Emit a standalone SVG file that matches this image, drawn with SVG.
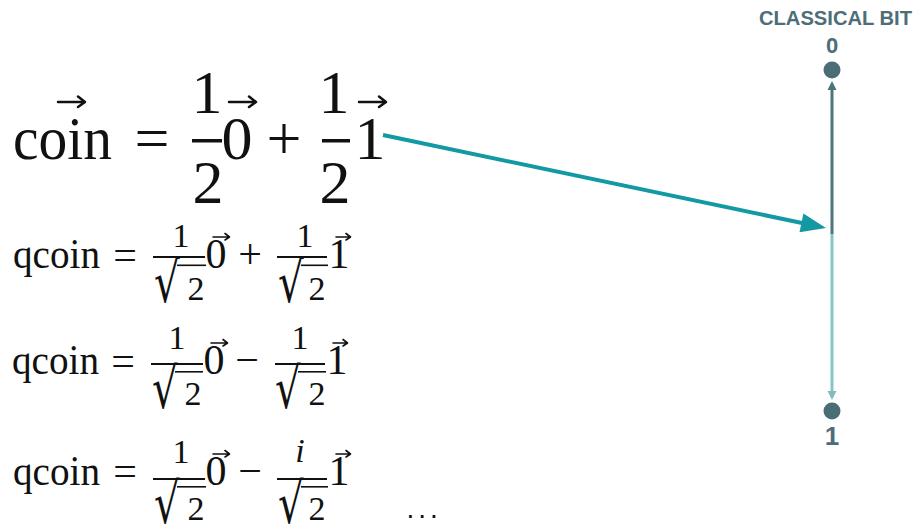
<svg xmlns="http://www.w3.org/2000/svg" width="917" height="528" viewBox="0 0 917 528">
<style>
.m{font-family:"Liberation Serif","DejaVu Serif",serif;fill:#111}
.m1{font-size:62px}
.m2{font-size:42px}
.ms{font-size:34px}
.rad{font-family:"DejaVu Serif","Liberation Serif",serif;font-size:56px;fill:#111}
.r{fill:#111}
.vec{stroke:#111;fill:none;stroke-linecap:round;stroke-linejoin:round}
.lab{font-family:"Liberation Sans","DejaVu Sans",sans-serif;font-weight:bold;fill:#4d6e78}
.node{fill:#4a6d76}
</style>

<g id="eq-classical">
<text class="m m1" x="13" y="159" textLength="99" lengthAdjust="spacingAndGlyphs">coin</text>
<path class="vec" stroke-width="2.5" d="M58,102 H84 M78,96.5 L85,102 L78,107"/>
<text class="m m1" x="152" y="159" text-anchor="middle">=</text>
<text class="m m1" x="207" y="113" text-anchor="middle">1</text>
<rect class="r" x="192" y="139" width="30" height="3.5"/>
<text class="m m1" x="208" y="203" text-anchor="middle">2</text>
<text class="m m1" x="237" y="159" text-anchor="middle">0</text>
<path class="vec" stroke-width="2.5" d="M229,102 H255 M249,96.5 L256,102 L249,107"/>
<text class="m m1" x="284" y="159" text-anchor="middle">+</text>
<text class="m m1" x="334" y="113" text-anchor="middle">1</text>
<rect class="r" x="322" y="139" width="28" height="3.5"/>
<text class="m m1" x="335" y="203" text-anchor="middle">2</text>
<text class="m m1" x="370" y="159" text-anchor="middle">1</text>
<path class="vec" stroke-width="2.5" d="M359,102 H385 M379,96.5 L386,102 L379,107"/>
</g>

<g id="eq-qcoin-1">
<text class="m m2" x="13" y="268" textLength="87" lengthAdjust="spacingAndGlyphs">qcoin</text>
<text class="m m2" x="125" y="269" text-anchor="middle">=</text>
<text class="m ms" x="181" y="247" text-anchor="middle">1</text>
<rect class="r" x="153" y="256" width="52" height="2"/>
<text class="rad" transform="translate(154,302) scale(0.72,1)">√</text>
<rect class="r" x="177" y="264.5" width="29" height="1.6"/>
<text class="m ms" x="196" y="300" text-anchor="middle">2</text>
<text class="m m2" x="216" y="268" text-anchor="middle">0</text>
<path class="vec" stroke-width="1.6" d="M213,237 H229 M225,233.5 L229.5,237 L225,240"/>
<text class="m m2" x="250" y="268" text-anchor="middle">+</text>
<text class="m ms" x="305" y="247" text-anchor="middle">1</text>
<rect class="r" x="277" y="256" width="50" height="2"/>
<text class="rad" transform="translate(278,302) scale(0.72,1)">√</text>
<rect class="r" x="301" y="264.5" width="27" height="1.6"/>
<text class="m ms" x="317" y="300" text-anchor="middle">2</text>
<text class="m m2" x="339" y="268" text-anchor="middle">1</text>
<path class="vec" stroke-width="1.6" d="M336,237 H350 M346,233.5 L350.5,237 L346,240"/>
</g>

<g id="eq-qcoin-2">
<text class="m m2" x="12" y="374" textLength="87" lengthAdjust="spacingAndGlyphs">qcoin</text>
<text class="m m2" x="123" y="375" text-anchor="middle">=</text>
<text class="m ms" x="177" y="349" text-anchor="middle">1</text>
<rect class="r" x="151" y="363" width="52" height="2"/>
<text class="rad" transform="translate(152,408) scale(0.72,1)">√</text>
<rect class="r" x="175" y="371" width="28" height="1.6"/>
<text class="m ms" x="193" y="405" text-anchor="middle">2</text>
<text class="m m2" x="214" y="374" text-anchor="middle">0</text>
<path class="vec" stroke-width="1.6" d="M211,343 H227 M223,339.5 L227.5,343 L223,346"/>
<text class="m m2" x="247" y="374" text-anchor="middle">−</text>
<text class="m ms" x="300" y="349" text-anchor="middle">1</text>
<rect class="r" x="275" y="363" width="50" height="2"/>
<text class="rad" transform="translate(275,408) scale(0.72,1)">√</text>
<rect class="r" x="298" y="371" width="28" height="1.6"/>
<text class="m ms" x="317" y="405" text-anchor="middle">2</text>
<text class="m m2" x="337" y="374" text-anchor="middle">1</text>
<path class="vec" stroke-width="1.6" d="M333,343 H347 M343,339.5 L347.5,343 L343,346"/>
</g>

<g id="eq-qcoin-3">
<text class="m m2" x="13" y="485" textLength="87" lengthAdjust="spacingAndGlyphs">qcoin</text>
<text class="m m2" x="125" y="485" text-anchor="middle">=</text>
<text class="m ms" x="181" y="463" text-anchor="middle">1</text>
<rect class="r" x="153" y="478" width="52" height="2"/>
<text class="rad" transform="translate(154,523) scale(0.72,1)">√</text>
<rect class="r" x="177" y="486" width="29" height="1.6"/>
<text class="m ms" x="196" y="520" text-anchor="middle">2</text>
<text class="m m2" x="216" y="485" text-anchor="middle">0</text>
<path class="vec" stroke-width="1.6" d="M213,454 H229 M225,450.5 L229.5,454 L225,457"/>
<text class="m m2" x="250" y="485" text-anchor="middle">−</text>
<text class="m ms" x="300" y="462" text-anchor="middle" font-style="italic">i</text>
<rect class="r" x="277" y="478" width="50" height="2"/>
<text class="rad" transform="translate(278,523) scale(0.72,1)">√</text>
<rect class="r" x="301" y="486" width="27" height="1.6"/>
<text class="m ms" x="317" y="520" text-anchor="middle">2</text>
<text class="m m2" x="339" y="485" text-anchor="middle">1</text>
<path class="vec" stroke-width="1.6" d="M336,454 H350 M346,450.5 L350.5,454 L346,457"/>
</g>

<g id="ellipsis">
<text x="406.5" y="518" font-family="'Liberation Sans',Arial,sans-serif" font-size="28" letter-spacing="4" fill="#111">...</text>
</g>

<g id="classical-bit-title">
<text class="lab" x="759" y="25" font-size="21" textLength="153" lengthAdjust="spacingAndGlyphs">CLASSICAL BIT</text>
</g>

<g id="state-0">
<text class="lab" x="832" y="53" font-size="22" text-anchor="middle">0</text>
<circle class="node" cx="832" cy="70" r="8.5"/>
</g>

<g id="state-1">
<circle class="node" cx="832" cy="411" r="8.5"/>
<text class="lab" x="832" y="445" font-size="26" text-anchor="middle">1</text>
</g>

<g id="connectors">
<line x1="832" y1="88" x2="832" y2="234" stroke="#50747d" stroke-width="3"/>
<path d="M832,81 L836.5,90 L827.5,90 Z" fill="#50747d"/>
<line x1="832" y1="234" x2="832" y2="391" stroke="#86c4c7" stroke-width="3"/>
<path d="M832,400 L836.5,391 L827.5,391 Z" fill="#7fbcc0"/>
<line x1="383" y1="135" x2="802" y2="223" stroke="#1399a4" stroke-width="4"/>
<path d="M826,228 L799.5,232.2 L803.4,213.6 Z" fill="#1399a4"/>
</g>
</svg>
